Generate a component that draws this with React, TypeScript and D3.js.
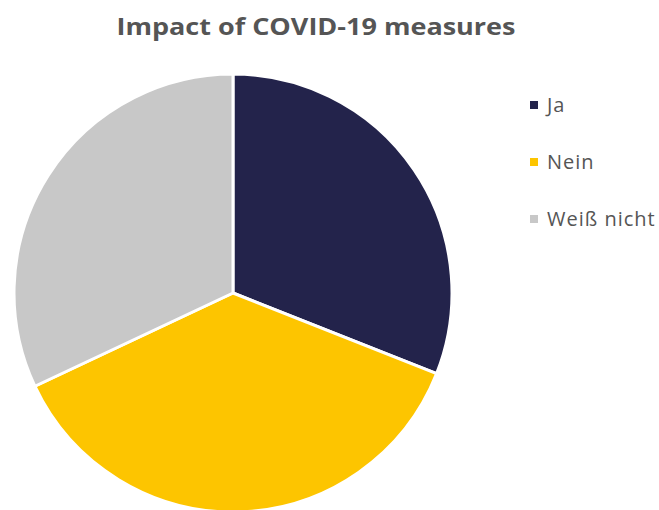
import React from "react";
import * as d3 from "d3";

const categories = ["Ja", "Nein", "Weiß nicht"];
const values = [31, 37, 32];
const colors = ["#23234b", "#fdc500", "#c8c8c8"];
const title = "Impact of COVID-19 measures";

export default function App() {
  const width = 659;
  const height = 510;
  const cx = 233;
  const cy = 293;
  const r = 219;
  const pie = d3.pie<number>().sort(null).value((d) => d);
  const arcs = pie(values);
  const arc = d3.arc<d3.PieArcDatum<number>>().innerRadius(0).outerRadius(r);
  return (
    <svg width={width} height={height} style={{ position: "absolute", left: 0, top: 0 }}>
      <text x={316} y={35} textAnchor="middle" fontFamily="'Open Sans', sans-serif" fontWeight="bold" fontSize={24} fill="#555555" textLength={399} lengthAdjust="spacingAndGlyphs">
        {title}
      </text>
      <g transform={`translate(${cx},${cy})`}>
        {arcs.map((a, i) => (
          <path key={i} d={arc(a) || ""} fill={colors[i]} stroke="#ffffff" strokeWidth={3} strokeLinejoin="round" />
        ))}
      </g>
      {categories.map((c, i) => (
        <g key={c} transform={`translate(530,${105 + i * 57})`}>
          <rect x={0} y={-4} width={8} height={8} fill={colors[i]} />
          <text x={17} y={7} fontFamily="'Open Sans', sans-serif" fontSize={20} letterSpacing={1} fill="#555555">
            {c}
          </text>
        </g>
      ))}
    </svg>
  );
}
